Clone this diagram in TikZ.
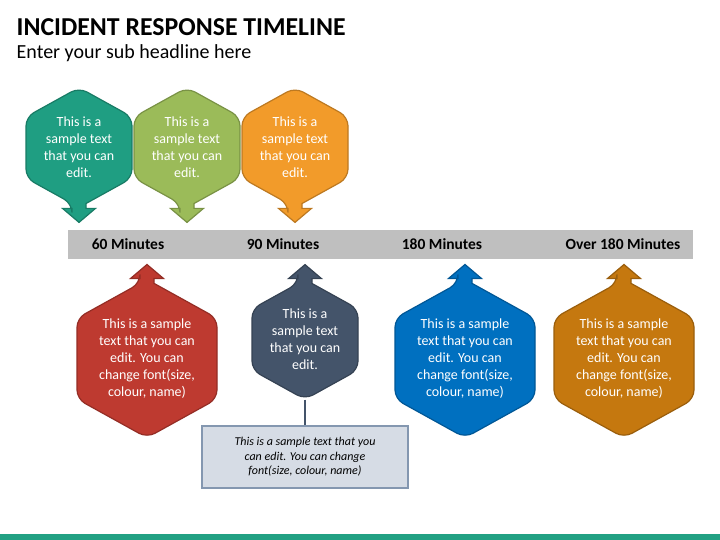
\documentclass[tikz,border=0pt]{standalone}
\usepackage{fontspec}
\setmainfont{Carlito}

\definecolor{hexteal}{HTML}{1F9E82}
\definecolor{hexgreen}{HTML}{9BBB59}
\definecolor{hexorange}{HTML}{F29B2A}
\definecolor{hexred}{HTML}{BE3A30}
\definecolor{hexslate}{HTML}{44546A}
\definecolor{hexblue}{HTML}{0070C0}
\definecolor{hexbrown}{HTML}{C5780F}
\definecolor{notefill}{HTML}{D6DCE5}
\definecolor{noteline}{HTML}{8497B0}
\definecolor{bargray}{HTML}{BFBFBF}
\definecolor{stripteal}{HTML}{22A183}

% hexagon with an arrow: centre x, centre y, half width, direction (1 down, -1 up), colour
\newcommand{\myhexarrow}[5]{%
  \pgfmathsetmacro{\hexH}{1.13*#3}%
  \pgfmathsetmacro{\hexB}{0.577*#3}%
  \pgfmathsetmacro{\hexJ}{\hexH-7*(\hexH-\hexB)/#3}%
  \filldraw[fill=#5, draw=#5!78!black, line width=1.2pt, rounded corners=9pt]
    ({#1+7},{#2+(#4)*\hexJ}) -- ({#1+#3},{#2+(#4)*\hexB}) -- ({#1+#3},{#2-(#4)*\hexB})
    -- ({#1},{#2-(#4)*\hexH}) -- ({#1-#3},{#2-(#4)*\hexB}) -- ({#1-#3},{#2+(#4)*\hexB})
    -- ({#1-7},{#2+(#4)*\hexJ}) [sharp corners]
    -- ({#1-7},{#2+(#4)*(\hexH+1)}) -- ({#1-16.5},{#2+(#4)*(\hexH+1)})
    -- ({#1},{#2+(#4)*(\hexH+15)}) -- ({#1+16.5},{#2+(#4)*(\hexH+1)})
    -- ({#1+7},{#2+(#4)*(\hexH+1)}) -- cycle;
}

\tikzset{
  hextext/.style = {text=white, align=center, font=\fontsize{14}{17}\selectfont},
  barlabel/.style = {font=\fontsize{15.5}{18}\selectfont\bfseries},
  notebox/.style = {draw=noteline, fill=notefill, line width=1.5pt, align=center,
    minimum width=206pt, minimum height=62pt, inner sep=0pt,
    font=\fontsize{12}{14.5}\selectfont\itshape}
}

\begin{document}
\begin{tikzpicture}[x=1pt, y=-1pt]
\path[fill=white] (0,0) rectangle (720,540);

% headline
\node[anchor=base west, inner sep=0pt, font=\fontsize{25.8}{30}\selectfont\bfseries] (title) at (16.5,35.5) {INCIDENT RESPONSE TIMELINE};
\node[anchor=base west, inner sep=0pt, font=\fontsize{20}{24}\selectfont] (subtitle) at (16.5,59) {Enter your sub headline here};

% timeline bar
\fill[bargray] (68,230) rectangle (693,259);
\foreach \x/\lbl/\nm in {128/60 Minutes/ma, 283/90 Minutes/mb, 442/180 Minutes/mc, 623/Over 180 Minutes/md}
{
    \node[barlabel] (\nm) at (\x,244.5) {\lbl};
}

% top row, arrows down
\foreach \cx/\col/\nm in {79/hexteal/ta, 187/hexgreen/tb, 295/hexorange/tc}
{
    \myhexarrow{\cx}{147.5}{53}{1}{\col}
    \node[hextext] (\nm) at (\cx,147.5) {This is a\\sample text\\that you can\\edit.};
}

% bottom row, arrows up
\foreach \cx/\col/\nm in {147/hexred/ba, 465/hexblue/bc, 624/hexbrown/bd}
{
    \myhexarrow{\cx}{358.6}{70}{-1}{\col}
    \node[hextext] (\nm) at (\cx,358.6) {This is a sample\\text that you can\\edit. You can\\change font(size,\\colour, name)};
}
\myhexarrow{305}{339.5}{53}{-1}{hexslate}
\node[hextext] (bb) at (305,339.5) {This is a\\sample text\\that you can\\edit.};
\coordinate (bbfoot) at (305,399.5);

% note under the slate hexagon
\node[notebox] (note) at (305,457) {This is a sample text that you\\can edit. You can change\\font(size, colour, name)};
\draw[hexslate, line width=2.8pt] (bbfoot) -- (note.north);

% footer strip
\fill[stripteal] (0,534) rectangle (720,540);
\end{tikzpicture}
\end{document}
